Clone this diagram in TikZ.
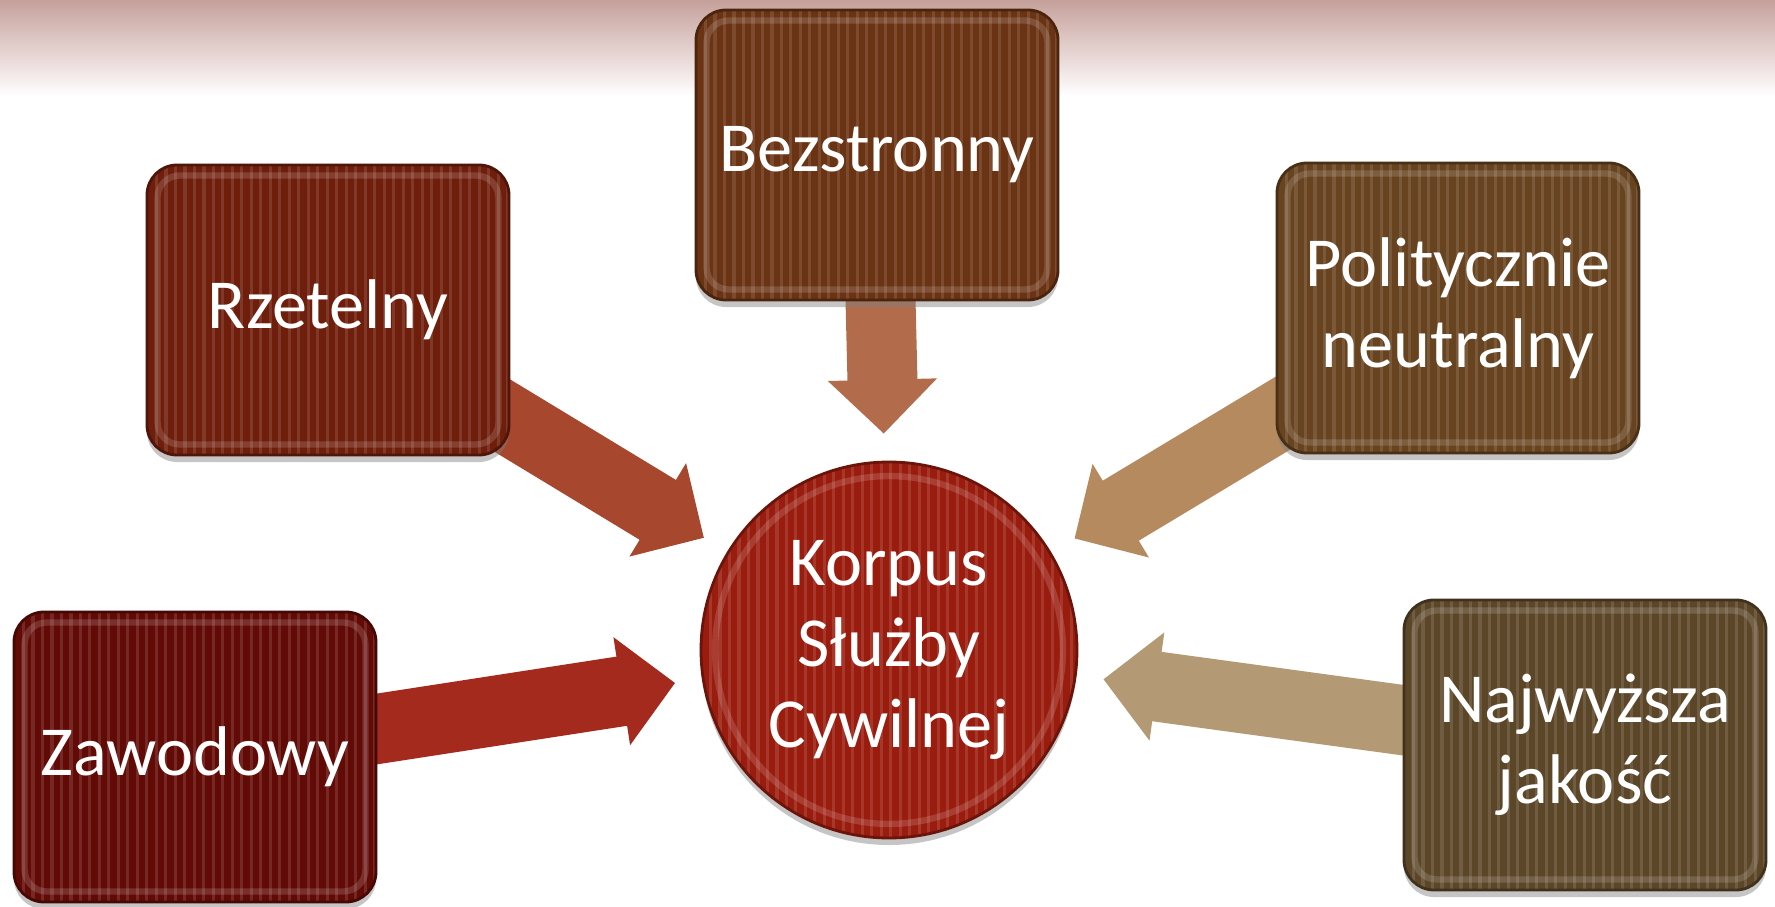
\documentclass[tikz,border=0pt]{standalone}
\usepackage{fontspec}
\setmainfont{Carlito}
\usepackage{tikz}
\usetikzlibrary{arrows.meta,shadows,backgrounds}

\definecolor{bgpink}{HTML}{C6A09B}
\definecolor{korcol}{HTML}{9A1C0E}
\definecolor{rzcol}{HTML}{6F1E0B}
\definecolor{zawcol}{HTML}{620B06}
\definecolor{bezcol}{HTML}{6A3313}
\definecolor{polcol}{HTML}{67431F}
\definecolor{najcol}{HTML}{5C4628}
\definecolor{rzarr}{HTML}{A6472E}
\definecolor{zawarr}{HTML}{A52A1E}
\definecolor{bezarr}{HTML}{B26C4C}
\definecolor{polarr}{HTML}{B58A5E}
\definecolor{najarr}{HTML}{B39A74}

% vertical ribs of the glossy tiles
\newcommand{\ribs}{%
  \foreach \k in {1,...,40}
    \draw[white,opacity=.12,line width=.9pt]
      ([xshift=\k*2.7pt]path picture bounding box.south west) --
      ([xshift=\k*2.7pt]path picture bounding box.north west);}

\begin{document}
\begin{tikzpicture}[
  ,font=\fontsize{20}{23}\selectfont
  ,text=white
  ,align=center
  ,thick arrow/.style={line width=0.7cm
    ,-{Triangle[length=0.54cm,width=1.06cm]}
    ,shorten >=0.27cm,shorten <=-0.3cm}]
  \tikzstyle{tile}=[rounded corners=0.3cm
  ,minimum width=3.62cm,minimum height=2.9cm
  ,line width=0.8pt
  ,drop shadow={shadow xshift=0pt,shadow yshift=-2pt,opacity=.45}
  ,path picture={\ribs
    \draw[white,opacity=.15,line width=1.8pt,rounded corners=.22cm]
      ([shift={(3pt,3pt)}]path picture bounding box.south west) rectangle
      ([shift={(-3pt,-3pt)}]path picture bounding box.north east);}]
  \tikzstyle{disc}=[circle,minimum size=3.76cm,inner sep=0pt
  ,line width=0.8pt
  ,drop shadow={shadow xshift=0pt,shadow yshift=-2pt,opacity=.45}
  ,path picture={\ribs
    \draw[white,opacity=.15,line width=1.8pt]
      (path picture bounding box.center) circle[radius=1.88cm-4pt];}]

  \useasboundingbox (0,0) rectangle (17.75,9.06);

  % centre
  \node[disc,fill=korcol,draw=korcol!70!black] (kor) at (8.89,2.56)
    {Korpus\\Służby\\Cywilnej};
  % 5 tiles round it
  \node[tile,fill=bezcol,draw=bezcol!70!black] (bez) at (8.77,7.51) {Bezstronny};
  \node[tile,fill=rzcol,draw=rzcol!70!black] (rz) at (3.28,5.96) {Rzetelny};
  \node[tile,fill=polcol,draw=polcol!70!black] (pol) at (14.58,5.98)
    {Politycznie\\neutralny};
  \node[tile,fill=zawcol,draw=zawcol!70!black] (zaw) at (1.95,1.49) {Zawodowy};
  \node[tile,fill=najcol,draw=najcol!70!black] (naj) at (15.85,1.61)
    {Najwyższa\\jakość};

  \begin{scope}[on background layer]
    \fill[white] (0,0) rectangle (17.75,9.06);
    \shade[top color=bgpink,bottom color=white] (0,8.1) rectangle (17.75,9.06);
    \path[thick arrow]
    (bez) edge[bezarr] (kor)
    (rz) edge[rzarr] (kor)
    (pol) edge[polarr] (kor)
    (zaw) edge[zawarr] (kor)
    (naj) edge[najarr] (kor);
  \end{scope}

\end{tikzpicture}
\end{document}
